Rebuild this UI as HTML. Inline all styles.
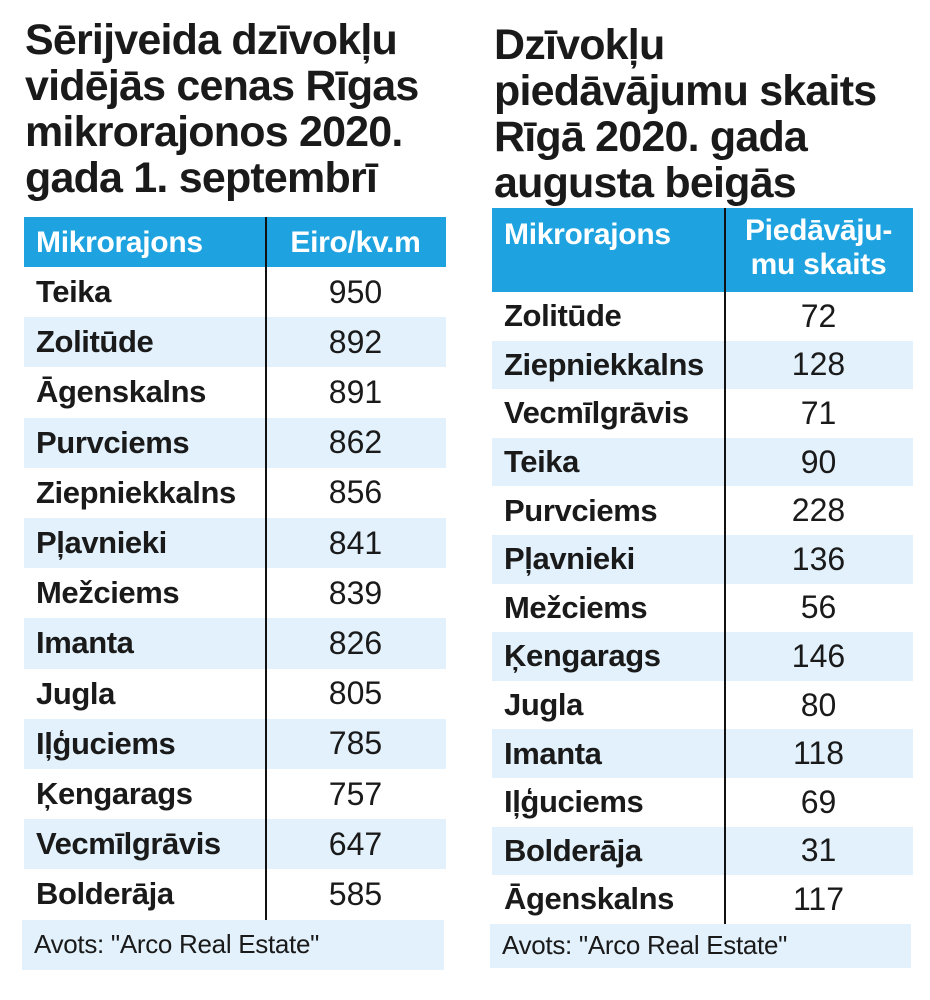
<!DOCTYPE html>
<html><head><meta charset="utf-8"><style>
body{margin:0;width:930px;height:1000px;background:#fff;font-family:"Liberation Sans",sans-serif;position:relative;overflow:hidden;color:#1a1a1a}
.title{position:absolute;font-weight:bold;font-size:43px;line-height:46px;letter-spacing:-0.8px;color:#1a1a1a}
.tbl{position:absolute}
.hdr{position:absolute;background:#1ea3e0;color:#fff;font-weight:bold;font-size:30px;letter-spacing:-0.3px}
.row{position:absolute;left:0;font-size:31px;display:flex;align-items:center}
.row.alt{background:#e2f1fb}
.nm{font-weight:bold;padding-left:12px;letter-spacing:-0.4px}
.val{position:absolute;text-align:center;font-size:32px}
.vline{position:absolute;width:2px;background:#111}
.src{position:absolute;background:#e2f1fb;font-size:26px;display:flex;align-items:center;padding-left:12px;box-sizing:border-box;letter-spacing:-0.3px}
</style></head><body>
<div class="title" style="left:25px;top:17px">Sērijveida dzīvokļu<br>vidējās cenas Rīgas<br>mikrorajonos 2020.<br>gada 1. septembrī</div>
<div class="title" style="left:494px;top:22px">Dzīvokļu<br>piedāvājumu skaits<br>Rīgā 2020. gada<br>augusta beigās</div>

<div class="tbl" id="t1" style="left:24px;top:217px;width:422px;height:753px">
 <div class="hdr" style="left:0;top:0;width:422px;height:50px">
  <span style="position:absolute;left:12px;top:9px">Mikrorajons</span>
  <span style="position:absolute;left:241px;width:181px;text-align:center;top:9px">Eiro/kv.m</span>
 </div>
</div>
<div class="tbl" id="t2" style="left:492px;top:208px;width:421px;height:760px">
 <div class="hdr" style="left:0;top:0;width:421px;height:84px">
  <span style="position:absolute;left:12px;top:10px">Mikrorajons</span>
  <span style="position:absolute;left:232px;width:189px;text-align:center;top:6px;line-height:34px">Piedāvāju-<br>mu skaits</span>
 </div>
</div>
<script>
const names1=["Teika","Zolitūde","Āgenskalns","Purvciems","Ziepniekkalns","Pļavnieki","Mežciems","Imanta","Jugla","Iļģuciems","Ķengarags","Vecmīlgrāvis","Bolderāja"];
const values1=[950,892,891,862,856,841,839,826,805,785,757,647,585];
const names2=["Zolitūde","Ziepniekkalns","Vecmīlgrāvis","Teika","Purvciems","Pļavnieki","Mežciems","Ķengarags","Jugla","Imanta","Iļģuciems","Bolderāja","Āgenskalns"];
const values2=[72,128,71,90,228,136,56,146,80,118,69,31,117];
function build(id,names,values,top,rh,w,divX,valW,prefix){
 const t=document.getElementById(id);
 for(let i=0;i<names.length;i++){
  const r=document.createElement('div');
  
  
  r.className='row'+(i%2?' alt':'');
  r.style.top=(top+i*rh)+'px';r.style.height=rh+'px';r.style.width=w+'px';
  const n=document.createElement('span');
  
  
  n.className='nm';n.textContent=names[i];
  const v=document.createElement('span');
  
  
  v.className='val';v.style.left=divX+'px';v.style.width=valW+'px';v.textContent=values[i];
  r.appendChild(n);r.appendChild(v);t.appendChild(r);
 }
 const l=document.createElement('div');
 
 
 l.className='vline';l.style.left=divX+'px';l.style.top='0px';l.style.height=(top+names.length*rh)+'px';
 t.appendChild(l);
 const s=document.createElement('div');
 
 
 s.className='src';s.style.left='-2px';s.style.top=(top+names.length*rh)+'px';
 s.style.width=w+'px';s.style.height=(id==='t1'?50:44)+'px';
 s.textContent='Avots: "Arco Real Estate"';
 t.appendChild(s);
}
build('t1',names1,values1,50,50.2,422,241,181,'price');
build('t2',names2,values2,84,48.6,421,232,189,'offers');
</script>
</body></html>
